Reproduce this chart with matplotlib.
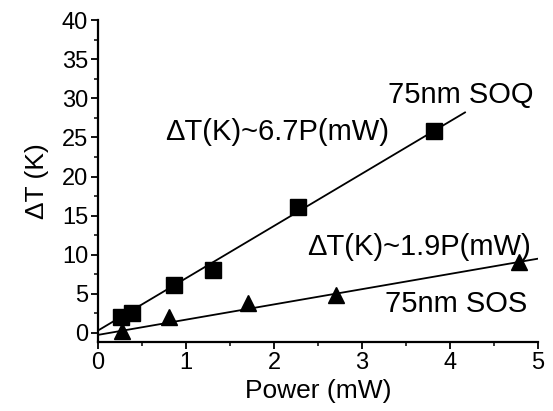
import matplotlib
matplotlib.use("Agg")
import matplotlib.pyplot as plt
from matplotlib.ticker import MultipleLocator

plt.rcParams['font.family'] = ['Liberation Sans', 'DejaVu Sans']

# measured points
soq_power = [0.26, 0.39, 0.86, 1.31, 2.27, 3.82]
soq_dt = [2.0, 2.6, 6.1, 8.1, 16.1, 25.8]
sos_power = [0.27, 0.81, 1.71, 2.71, 4.78]
sos_dt = [0.2, 2.0, 3.8, 4.8, 9.1]

# linear fits
fit_soq_x = [0.0, 4.17]
fit_soq_y = [0.3, 28.2]
fit_sos_x = [0.0, 5.0]
fit_sos_y = [-0.25, 9.5]

fig = plt.figure(figsize=(5.53, 4.11), dpi=100)
ax = fig.add_axes([0.177, 0.168, 0.796, 0.783])

ax.plot(fit_soq_x, fit_soq_y, color="black", lw=1.3)
ax.plot(fit_sos_x, fit_sos_y, color="black", lw=1.3)
ax.plot(soq_power, soq_dt, 's', color="black", ms=11, clip_on=False)
ax.plot(sos_power, sos_dt, '^', color="black", ms=12, clip_on=False)

ax.set_xlim(0, 5)
ax.set_ylim(-1.15, 40)
ax.xaxis.set_major_locator(MultipleLocator(1))
ax.xaxis.set_minor_locator(MultipleLocator(0.5))
ax.yaxis.set_major_locator(MultipleLocator(5))
ax.yaxis.set_minor_locator(MultipleLocator(2.5))

for s in ["top", "right"]:
    ax.spines[s].set_visible(False)
for s in ["left", "bottom"]:
    ax.spines[s].set_linewidth(1.6)
ax.tick_params(which="major", direction="out", length=5, width=1.3, labelsize=17, pad=2)
ax.tick_params(which="minor", direction="out", length=3, width=1.1)

ax.set_xlabel("Power (mW)", fontsize=19, labelpad=4)
ax.set_ylabel("ΔT (K)", fontsize=19, labelpad=9)

ax.text(3.3, 30.4, "75nm SOQ", fontsize=21, ha="left", va="center")
ax.text(0.76, 25.7, "ΔT(K)~6.7P(mW)", fontsize=21, ha="left", va="center")
ax.text(2.375, 11.0, "ΔT(K)~1.9P(mW)", fontsize=21, ha="left", va="center")
ax.text(3.26, 3.7, "75nm SOS", fontsize=21, ha="left", va="center")

fig.savefig("out.png", dpi=100)
